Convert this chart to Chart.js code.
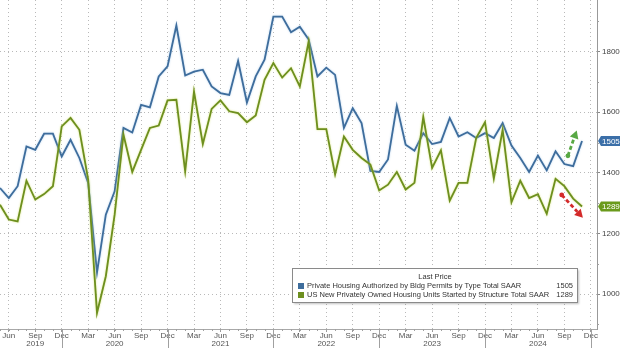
<!DOCTYPE html>
<html>
<head>
<meta charset="utf-8">
<script src="https://cdn.jsdelivr.net/npm/chart.js@4/dist/chart.umd.min.js"></script>
<style>
  html, body { margin: 0; padding: 0; background: #fff; }
  #wrap { width: 620px; height: 348px; }
</style>
</head>
<body>
<div id="wrap"><canvas id="c" width="620" height="348"></canvas></div>
<script>
// Monthly series, May 2019 .. Nov 2024 (thousands of units, SAAR)
const firstMonth = { year: 2019, month: 5 };

const permits = [
  1350, 1317, 1356, 1487, 1476, 1529, 1529, 1454,
  1509, 1449, 1367, 1071, 1262, 1339, 1548, 1533, 1624, 1616, 1718, 1751,
  1886, 1721, 1734, 1740, 1685, 1663, 1657, 1769, 1632, 1718, 1773, 1915,
  1915, 1864, 1882, 1840, 1718, 1747, 1723, 1548, 1613, 1564, 1406, 1403,
  1444, 1621, 1493, 1473, 1531, 1495, 1502, 1581, 1520, 1534, 1515, 1531,
  1515, 1564, 1490, 1449, 1403, 1457, 1408, 1471, 1429, 1422, 1505
];

const starts = [
  1295, 1246, 1240, 1374, 1312, 1330, 1356, 1553,
  1581, 1542, 1378, 938, 1059, 1262, 1526, 1403, 1476, 1548, 1556, 1639,
  1641, 1405, 1668, 1495, 1611, 1639, 1603, 1597, 1567, 1589, 1707, 1762,
  1714, 1745, 1685, 1833, 1544, 1544, 1395, 1520, 1476, 1449, 1427, 1342,
  1361, 1403, 1345, 1367, 1584, 1416, 1474, 1308, 1367, 1367, 1515, 1567,
  1381, 1542, 1303, 1374, 1317, 1330, 1265, 1380, 1356, 1315, 1289
];

const seriesNames = [
  'Private Housing Authorized by Bldg Permits by Type Total SAAR',
  'US New Privately Owned Housing Units Started by Structure Total SAAR'
];

// Quarterly x-axis ticks, Jun 2019 .. Dec 2024
const xTickMonths = ['Jun','Sep','Dec','Mar','Jun','Sep','Dec','Mar','Jun','Sep','Dec','Mar',
                     'Jun','Sep','Dec','Mar','Jun','Sep','Dec','Mar','Jun','Sep','Dec'];
const xTickYears  = ['','2019','','','2020','','','','2021','','','',
                     '2022','','','','2023','','','','2024','',''];
const yTicks = [1000, 1200, 1400, 1600, 1800];

// Trend arrows near the latest readings: [fromIndex, fromValue], [toIndex, toValue]
const trendArrows = [
  { from: [64.4, 1456], to: [65.4, 1540], color: '#58a844' },
  { from: [63.7, 1327], to: [66.1, 1252], color: '#d42a2a' }
];

const BLUE = '#3e6d9c';
const GREEN = '#6d8f1f';
const FONT = '"Liberation Sans", Arial, sans-serif';

const monthIndex = (k) => 1 + 3 * k; // offset of each quarterly tick from May 2019

// soft halo around each series line
const halo = {
  id: 'halo',
  beforeDatasetDraw(chart, args) {
    const ctx = chart.ctx;
    ctx.save();
    ctx.shadowColor = args.index === 0 ? 'rgba(150,190,230,0.7)' : 'rgba(205,220,90,0.8)';
    ctx.shadowBlur = 2;
  },
  afterDatasetDraw(chart) {
    chart.ctx.restore();
  }
};

const overlay = {
  id: 'overlay',
  afterDraw(chart) {
    const { ctx, scales: { x, y }, chartArea: a } = chart;
    const W = chart.width, H = chart.height;
    ctx.save();

    // monthly minor ticks along the time axis
    ctx.strokeStyle = '#a0a0a0';
    ctx.lineWidth = 1;
    ctx.beginPath();
    for (let i = 0; i <= 67; i++) {
      const px = Math.round(x.getPixelForValue(i)) + 0.5;
      ctx.moveTo(px, a.bottom); ctx.lineTo(px, a.bottom + 2);
    }
    // year separators below the axis
    xTickMonths.forEach((m, k) => {
      if (m !== 'Dec') return;
      const px = Math.round(x.getPixelForValue(monthIndex(k))) + 0.5;
      ctx.moveTo(px, a.bottom); ctx.lineTo(px, H);
    });
    // minor value ticks
    for (let v = 900; v <= 1900; v += 200) {
      const py = Math.round(y.getPixelForValue(v)) + 0.5;
      ctx.moveTo(a.right, py); ctx.lineTo(a.right + 2, py);
    }
    ctx.stroke();

    // trend arrows
    trendArrows.forEach(t => {
      const x0 = x.getPixelForValue(t.from[0]), y0 = y.getPixelForValue(t.from[1]);
      const x1 = x.getPixelForValue(t.to[0]), y1 = y.getPixelForValue(t.to[1]);
      const ang = Math.atan2(y1 - y0, x1 - x0);
      const head = 8;
      const bx = x1 - Math.cos(ang) * head, by = y1 - Math.sin(ang) * head;
      ctx.strokeStyle = t.color; ctx.fillStyle = t.color;
      ctx.lineWidth = 2.8; ctx.lineCap = 'butt';
      ctx.setLineDash([4, 2.5]);
      ctx.beginPath(); ctx.moveTo(x0, y0); ctx.lineTo(bx, by); ctx.stroke();
      ctx.setLineDash([]);
      ctx.beginPath(); ctx.arc(x0, y0, 2.4, 0, Math.PI * 2); ctx.fill();
      ctx.beginPath();
      ctx.moveTo(x1, y1);
      ctx.lineTo(bx + Math.cos(ang + Math.PI / 2) * 4.5, by + Math.sin(ang + Math.PI / 2) * 4.5);
      ctx.lineTo(bx + Math.cos(ang - Math.PI / 2) * 4.5, by + Math.sin(ang - Math.PI / 2) * 4.5);
      ctx.closePath(); ctx.fill();
    });

    // last-value badges on the value axis
    const badges = [
      { v: permits[permits.length - 1], c: '#3b6fa8' },
      { v: starts[starts.length - 1], c: '#6a9a1c' }
    ];
    badges.forEach(b => {
      const py = y.getPixelForValue(b.v);
      const x0 = a.right + 1;
      ctx.fillStyle = b.c;
      ctx.beginPath();
      ctx.moveTo(x0, py);
      ctx.lineTo(x0 + 3, py - 5);
      ctx.lineTo(W, py - 5);
      ctx.lineTo(W, py + 5);
      ctx.lineTo(x0 + 3, py + 5);
      ctx.closePath(); ctx.fill();
      ctx.fillStyle = '#fff';
      ctx.font = '8px ' + FONT;
      ctx.textAlign = 'left'; ctx.textBaseline = 'middle';
      ctx.fillText(String(b.v), x0 + 4, py + 0.5);
    });

    // legend box
    const lx = 292.5, ly = 268.5, lw = 285, lh = 34;
    ctx.shadowColor = 'rgba(0,0,0,0.25)'; ctx.shadowBlur = 2; ctx.shadowOffsetX = 1; ctx.shadowOffsetY = 1;
    ctx.fillStyle = '#fff';
    ctx.fillRect(lx, ly, lw, lh);
    ctx.shadowColor = 'transparent';
    ctx.strokeStyle = '#8a8a8a'; ctx.lineWidth = 1;
    ctx.strokeRect(lx, ly, lw, lh);
    ctx.fillStyle = '#333';
    ctx.font = '7.5px ' + FONT;
    ctx.textBaseline = 'middle';
    ctx.textAlign = 'center';
    ctx.fillText('Last Price', 435, 277);
    const rows = [
      { name: seriesNames[0], v: permits[permits.length - 1], c: BLUE, yy: 286 },
      { name: seriesNames[1], v: starts[starts.length - 1], c: GREEN, yy: 295 }
    ];
    rows.forEach(r => {
      ctx.fillStyle = r.c;
      ctx.fillRect(298, r.yy - 3, 6, 6);
      ctx.fillStyle = '#333';
      ctx.textAlign = 'left';
      ctx.fillText(r.name, 307, r.yy);
      ctx.textAlign = 'right';
      ctx.fillText(String(r.v), 573, r.yy);
    });

    ctx.restore();
  }
};

new Chart(document.getElementById('c'), {
  type: 'line',
  data: {
    datasets: [
      {
        label: seriesNames[0],
        data: permits.map((v, i) => ({ x: i, y: v })),
        borderColor: BLUE, borderWidth: 1.8, pointRadius: 0, tension: 0, order: 2
      },
      {
        label: seriesNames[1],
        data: starts.map((v, i) => ({ x: i, y: v })),
        borderColor: GREEN, borderWidth: 1.8, pointRadius: 0, tension: 0, order: 1
      }
    ]
  },
  options: {
    responsive: false,
    devicePixelRatio: 1,
    animation: false,
    layout: { padding: 0 },
    plugins: { legend: { display: false }, tooltip: { enabled: false } },
    scales: {
      x: {
        type: 'linear', position: 'bottom', min: 0, max: 67.7,
        afterBuildTicks: s => { s.ticks = xTickMonths.map((m, k) => ({ value: monthIndex(k) })); },
        afterFit: s => { s.height = 19; s.paddingLeft = 0; s.paddingRight = 0; },
        ticks: {
          autoSkip: false, maxRotation: 0, padding: -1,
          color: '#555', font: { family: FONT, size: 8, lineHeight: 1.1 },
          callback: (v, k) => xTickYears[k] ? [xTickMonths[k], xTickYears[k]] : xTickMonths[k]
        },
        grid: { color: '#b9b9b9', lineWidth: 1, drawTicks: true, tickLength: 3, tickColor: '#999' },
        border: { display: true, color: '#a8a8a8', dash: [1, 3] }
      },
      y: {
        type: 'linear', position: 'right', min: 885, max: 1970,
        afterBuildTicks: s => { s.ticks = yTicks.map(v => ({ value: v })); },
        afterFit: s => { s.width = 23; s.paddingTop = 0; s.paddingBottom = 0; },
        ticks: { color: '#444', padding: 2, font: { family: FONT, size: 8 }, callback: v => String(v) },
        grid: { color: '#b9b9b9', lineWidth: 1, drawTicks: true, tickLength: 3, tickColor: '#888' },
        border: { display: true, color: '#999', dash: [1, 3] }
      }
    }
  },
  plugins: [halo, overlay]
});
</script>
</body>
</html>
